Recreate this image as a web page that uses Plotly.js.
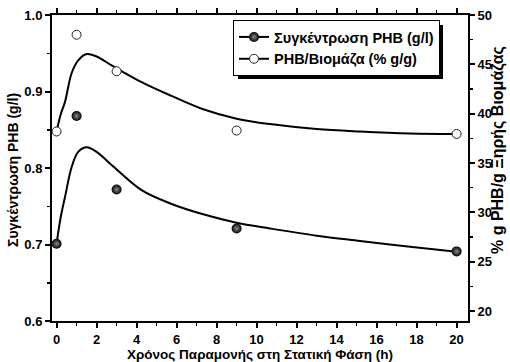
<!DOCTYPE html>
<html><head><meta charset="utf-8">
<script src="https://cdn.plot.ly/plotly-3.0.1.min.js"></script>
<style>html,body{margin:0;padding:0;background:#fff}</style>
</head><body><div id="chart" style="width:510px;height:362px"></div>
<script>
// ---- data ----
const timeH = [0, 1, 3, 9, 20];
const phbConc = [0.701, 0.868, 0.772, 0.721, 0.691];
const phbPct = [38.2, 48.0, 44.3, 38.3, 37.95];
const fitTime = [0, 0.2, 0.42, 0.75, 1.08, 1.5, 2, 2.75, 4.25, 5.75, 7.33, 9, 10.67, 13, 15.17, 17.67, 20];
const fitConc = [0.701, 0.735, 0.762, 0.801, 0.821, 0.827, 0.821, 0.804, 0.771, 0.753, 0.7395, 0.7285, 0.721, 0.7115, 0.7046, 0.697, 0.6906];
const fitPct = [38.2, 39.9, 41.2, 44.1, 45.4, 46.05, 45.8, 44.9, 43.2, 41.8, 40.45, 39.5, 38.95, 38.45, 38.2, 38.0, 37.95];
const legendNames = ['Συγκέντρωση PHB (g/l)', 'PHB/Βιομάζα (% g/g)'];
const xTitle = 'Χρόνος Παραμονής στη Στατική Φάση (h)';
const yTitle = 'Συγκέντρωση PHB (g/l)';
const y2Title = '% g PHB/g Ξηρής Βιομάζας';

// ---- geometry ----
const W = 510, H = 362, L = 52, R = 468, T = 15, B = 321;
const px = v => (v - L) / (R - L);
const py = v => (B - v) / (B - T);

const fam = '"Liberation Sans", Arial, sans-serif';
const font = s => ({family: fam, color: '#000', size: s, weight: 700});
const filledMarker = {symbol: 'circle', size: 10, color: '#000', gradient: {type: 'radial', color: '#8a8a8a'}, line: {width: 0}};
const openMarker = {symbol: 'circle', size: 9, color: '#fff', line: {color: '#222', width: 1}};
const lineStyle = {color: '#000', width: 2, shape: 'spline', smoothing: 1};

const traces = [
  {x: fitTime, y: fitConc, mode: 'lines', line: lineStyle, showlegend: false, hoverinfo: 'skip'},
  {x: fitTime, y: fitPct, yaxis: 'y2', mode: 'lines', line: lineStyle, showlegend: false, hoverinfo: 'skip'},
  {x: timeH, y: phbConc, mode: 'markers', marker: filledMarker, showlegend: false},
  {x: timeH, y: phbPct, yaxis: 'y2', mode: 'markers', marker: openMarker, showlegend: false},
  {x: [null], y: [null], mode: 'lines+markers', name: legendNames[0], line: {color: '#000', width: 2}, marker: filledMarker},
  {x: [null], y: [null], mode: 'lines+markers', name: legendNames[1], line: {color: '#000', width: 2}, marker: openMarker}
];

const axisCommon = {
  showline: true, linewidth: 2, linecolor: '#000', showgrid: false, zeroline: false,
  ticks: 'outside', ticklen: 5, tickwidth: 2, tickcolor: '#000',
  tickfont: font(13), fixedrange: true
};
const minorTicks = d => ({dtick: d, ticks: 'outside', ticklen: 3, tickwidth: 1.5, tickcolor: '#000'});

const layout = {
  width: W, height: H,
  margin: {l: L, r: W - R, t: T, b: H - B, pad: 0},
  paper_bgcolor: '#fff', plot_bgcolor: '#fff',
  font: font(13),
  xaxis: Object.assign({}, axisCommon, {
    range: [-0.23, 20.57], tick0: 0, dtick: 2, mirror: 'ticks',
    minor: minorTicks(1),
    title: {text: xTitle, font: font(13.5), standoff: 1}
  }),
  yaxis: Object.assign({}, axisCommon, {
    range: [0.6, 1.0], tick0: 0.6, dtick: 0.1, tickformat: '.1f',
    minor: minorTicks(0.05)
  }),
  yaxis2: Object.assign({}, axisCommon, {
    overlaying: 'y', side: 'right', range: [19, 50], tick0: 0, dtick: 5,
    minor: minorTicks(2.5)
  }),
  legend: {
    x: px(233), y: py(20), xanchor: 'left', yanchor: 'top',
    bgcolor: '#fff', bordercolor: '#000', borderwidth: 1,
    font: font(14.5), tracegroupgap: 0, itemwidth: 30
  },
  annotations: [
    {text: yTitle, xref: 'paper', yref: 'paper', x: px(13), y: py(170), xanchor: 'center', yanchor: 'middle',
     textangle: -90, showarrow: false, font: font(14)},
    {text: y2Title, xref: 'paper', yref: 'paper', x: px(498), y: py(150), xanchor: 'center', yanchor: 'middle',
     textangle: -90, showarrow: false, font: font(16)}
  ]
};

const gd = document.getElementById('chart');
Plotly.newPlot(gd, traces, layout, {displayModeBar: false, staticPlot: true});
// legend drop shadow: a black box offset 4px right/down from the measured legend frame
const bg = gd.querySelector('g.legend rect.bg');
let box = [233, 21, 443, 76];
if (bg) {
  const r = bg.getBoundingClientRect(), g = gd.getBoundingClientRect();
  if (r.width > 0) box = [r.left - g.left + 0.5, r.top - g.top + 0.5, r.right - g.left - 0.5, r.bottom - g.top - 0.5];
}
Plotly.relayout(gd, {shapes: [{
  type: 'rect', xref: 'paper', yref: 'paper',
  x0: px(box[0] + 4), x1: px(box[2] + 4), y0: py(box[3] + 4), y1: py(box[1] + 4),
  fillcolor: '#000', line: {width: 0}, layer: 'above'
}]});
</script>
</body></html>
